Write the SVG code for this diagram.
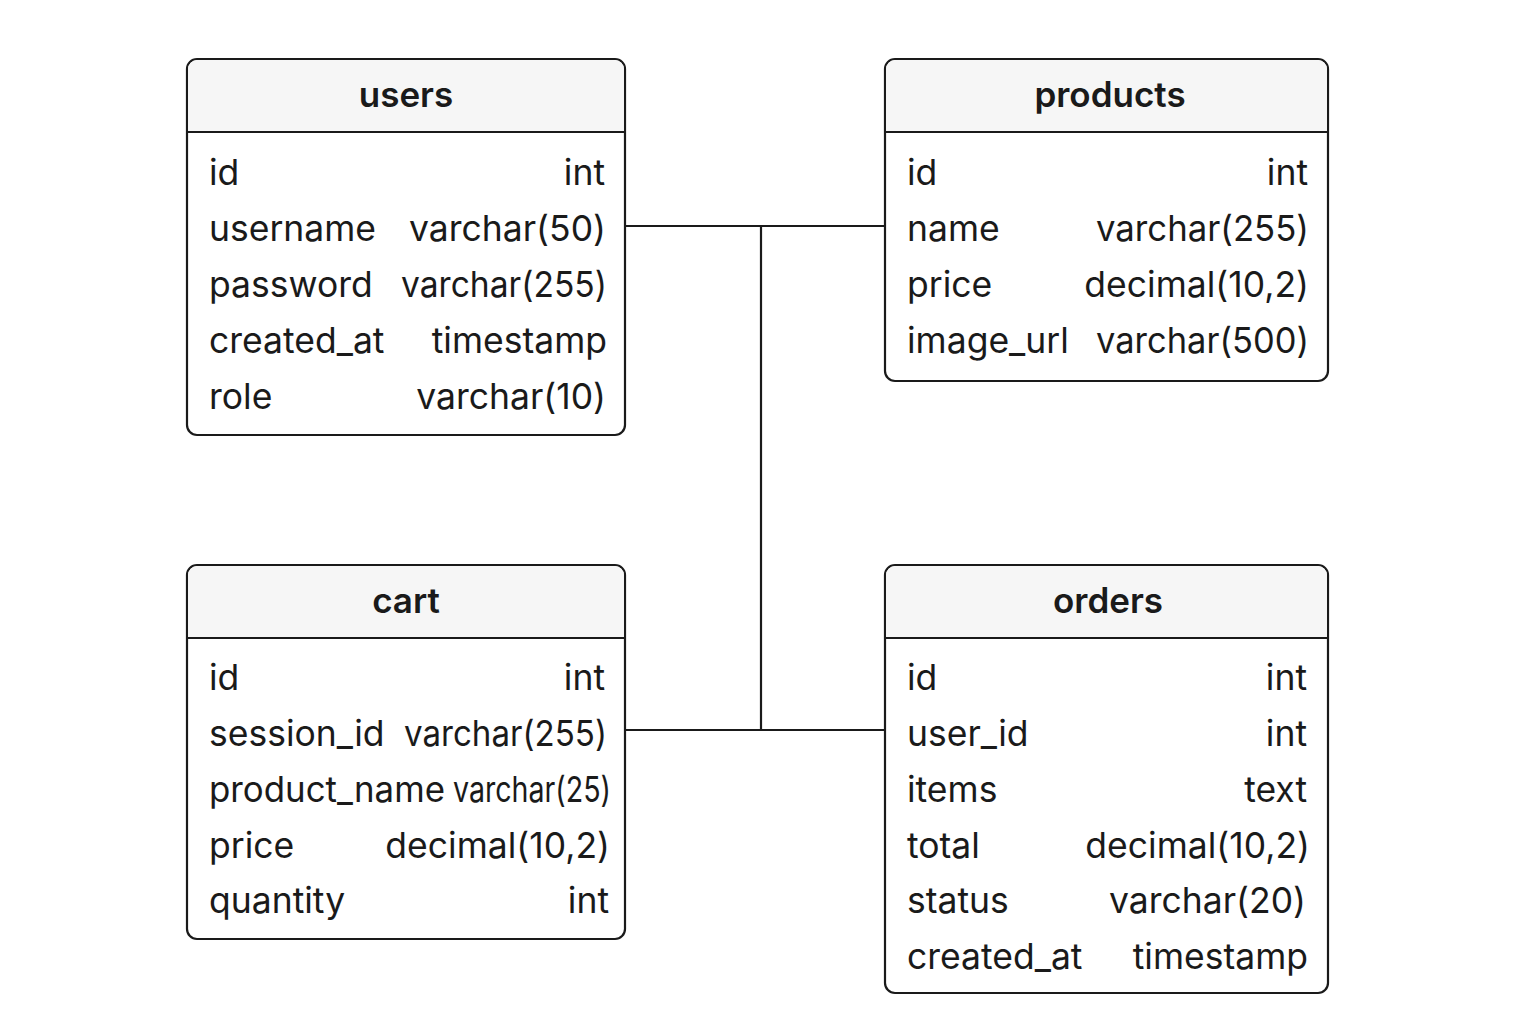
<svg xmlns="http://www.w3.org/2000/svg" width="1536" height="1024" viewBox="0 0 1536 1024">
<style>
.box{fill:#ffffff;stroke:#1a1a1a;stroke-width:2.2}
.hdr{fill:#f6f6f6}
.div{stroke:#1a1a1a;stroke-width:2.2}
.title{font-family:Inter,"Noto Sans",sans-serif;font-weight:600;font-size:35px;fill:#1a1a1a;text-anchor:middle}
.f{font-family:Inter,"Noto Sans",sans-serif;font-size:35.5px;fill:#1a1a1a}
.t{font-family:Inter,"Noto Sans",sans-serif;font-size:35.5px;fill:#1a1a1a;text-anchor:end}
.conn{fill:none;stroke:#1a1a1a;stroke-width:2.2}
</style>
<rect width="1536" height="1024" fill="#ffffff"/>
<g id="connectors">
<path class="conn" d="M625 226 H885"/>
<path class="conn" d="M761 226 V730"/>
<path class="conn" d="M625 730 H885"/>
</g>
<g id="users">
<rect class="box" x="187" y="59" width="438" height="376" rx="10"/>
<path class="hdr" d="M198 60.1 H614 A9 9 0 0 1 623.9 70 V131 H188.1 V70 A9 9 0 0 1 198 60.1Z"/>
<line class="div" x1="187" y1="132" x2="625" y2="132"/>
<text class="title" x="406" y="107">users</text>
<text class="f" x="209" y="185">id</text><text class="t" x="605" y="185">int</text>
<text class="f" x="209" y="241">username</text><text class="t" x="606" y="241">varchar(50)</text>
<text class="f" x="209" y="297">password</text><text class="t" x="607" y="297" textLength="206" lengthAdjust="spacingAndGlyphs">varchar(255)</text>
<text class="f" x="209" y="353">created_at</text><text class="t" x="607" y="353">timestamp</text>
<text class="f" x="209" y="409">role</text><text class="t" x="606" y="409">varchar(10)</text>
</g>
<g id="products">
<rect class="box" x="885" y="59" width="443" height="322" rx="10"/>
<path class="hdr" d="M896 60.1 H1317 A9 9 0 0 1 1326.9 70 V131 H886.1 V70 A9 9 0 0 1 896 60.1Z"/>
<line class="div" x1="885" y1="132" x2="1328" y2="132"/>
<text class="title" x="1110" y="107">products</text>
<text class="f" x="907" y="185">id</text><text class="t" x="1308" y="185">int</text>
<text class="f" x="907" y="241">name</text><text class="t" x="1309" y="241" textLength="213" lengthAdjust="spacingAndGlyphs">varchar(255)</text>
<text class="f" x="907" y="297">price</text><text class="t" x="1309" y="297">decimal(10,2)</text>
<text class="f" x="907" y="353">image_url</text><text class="t" x="1309" y="353" textLength="213" lengthAdjust="spacingAndGlyphs">varchar(500)</text>
</g>
<g id="cart">
<rect class="box" x="187" y="565" width="438" height="374" rx="10"/>
<path class="hdr" d="M198 566.1 H614 A9 9 0 0 1 623.9 576 V637 H188.1 V576 A9 9 0 0 1 198 566.1Z"/>
<line class="div" x1="187" y1="638" x2="625" y2="638"/>
<text class="title" x="406" y="613">cart</text>
<text class="f" x="209" y="690">id</text><text class="t" x="605" y="690">int</text>
<text class="f" x="209" y="746">session_id</text><text class="t" x="607" y="746" textLength="203" lengthAdjust="spacingAndGlyphs">varchar(255)</text>
<text class="f" x="209" y="802" textLength="236" lengthAdjust="spacingAndGlyphs">product_name</text><text class="t" x="611" y="802" textLength="158" lengthAdjust="spacingAndGlyphs">varchar(25)</text>
<text class="f" x="209" y="858">price</text><text class="t" x="610" y="858">decimal(10,2)</text>
<text class="f" x="209" y="913">quantity</text><text class="t" x="609" y="913">int</text>
</g>
<g id="orders">
<rect class="box" x="885" y="565" width="443" height="428" rx="10"/>
<path class="hdr" d="M896 566.1 H1317 A9 9 0 0 1 1326.9 576 V637 H886.1 V576 A9 9 0 0 1 896 566.1Z"/>
<line class="div" x1="885" y1="638" x2="1328" y2="638"/>
<text class="title" x="1108" y="613">orders</text>
<text class="f" x="907" y="690">id</text><text class="t" x="1307" y="690">int</text>
<text class="f" x="907" y="746">user_id</text><text class="t" x="1307" y="746">int</text>
<text class="f" x="907" y="802">items</text><text class="t" x="1307" y="802">text</text>
<text class="f" x="907" y="858">total</text><text class="t" x="1310" y="858">decimal(10,2)</text>
<text class="f" x="907" y="913">status</text><text class="t" x="1306" y="913">varchar(20)</text>
<text class="f" x="907" y="969">created_at</text><text class="t" x="1308" y="969">timestamp</text>
</g>
</svg>
